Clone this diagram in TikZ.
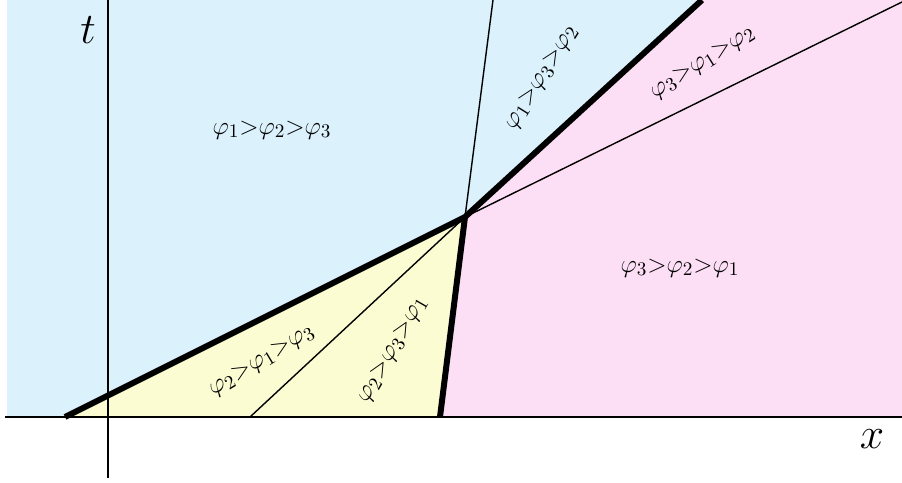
\documentclass[tikz,border=0pt]{standalone}
\usepackage{amsmath,amssymb}
\usepackage{xcolor}
\usepackage{tikz}
\usetikzlibrary{positioning,calc}

\definecolor{regblue}{RGB}{219,241,252}
\definecolor{regpink}{RGB}{253,223,245}
\definecolor{regyellow}{RGB}{252,252,210}

\begin{document}
\begin{tikzpicture}[x=0.02cm, y=0.02cm, line join=round,
  shock/.style={line width=3.4pt},
  wave/.style={line width=0.8pt},
  axis/.style={line width=0.9pt},
  region/.style={font=\fontsize{15}{18}\selectfont, inner sep=1pt},
  axlabel/.style={font=\fontsize{28}{32}\selectfont, inner sep=0pt}]
\useasboundingbox (0,0) rectangle (902,483);
% points of the fan
\coordinate (P) at (465,266);
\coordinate (A) at (65,66);
\coordinate (B) at (440,66);
\coordinate (C) at (702,483);
\coordinate (D) at (493,483);
\coordinate (E) at (902,481);
\coordinate (F) at (250,66);
% regions
\fill[regblue] (7,66) rectangle (902,483);
\fill[regpink] (B) -- (P) -- (C) -- (902,483) -- (902,66) -- cycle;
\fill[regyellow] (A) -- (P) -- (B) -- cycle;
% axes
\draw[axis] (5,66) -- (902,66);
\draw[axis] (108,483) -- (108,5);
\node[axlabel] (tl) at (88,453) {$t$};
\node[axlabel] (xl) at (872,44) {$x$};
% thin waves
\draw[wave] (P) -- (D);
\draw[wave] (P) -- (E);
\draw[wave] (P) -- (F);
% shocks
\draw[shock] (A) -- (P) -- (C);
\draw[shock] (P) -- (B);
% labels
\node[region] (r123) at (272,353) {$\varphi_1{>}\varphi_2{>}\varphi_3$};
\node[region] (r321) at (680,215) {$\varphi_3{>}\varphi_2{>}\varphi_1$};
\node[region, rotate=31] (r213) at (262,122) {$\varphi_2{>}\varphi_1{>}\varphi_3$};
\node[region, rotate=60] (r231) at (393,133) {$\varphi_2{>}\varphi_3{>}\varphi_1$};
\node[region, rotate=58] (r132) at (542,405) {$\varphi_1{>}\varphi_3{>}\varphi_2$};
\node[region, rotate=32] (r312) at (703,420) {$\varphi_3{>}\varphi_1{>}\varphi_2$};
\end{tikzpicture}
\end{document}
